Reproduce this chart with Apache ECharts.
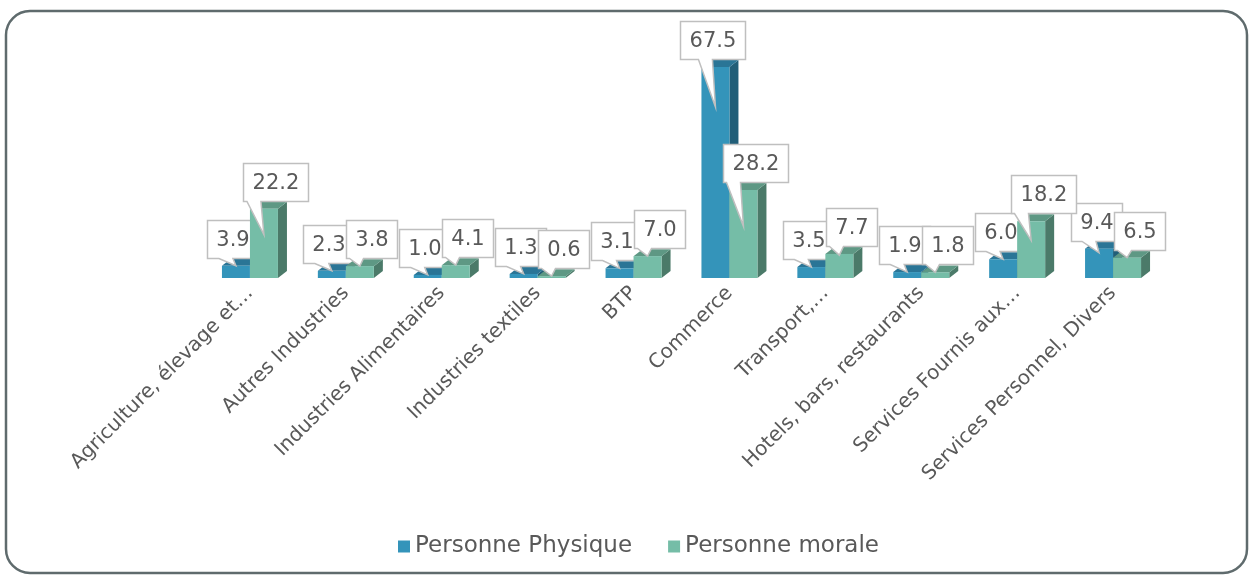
<!DOCTYPE html>
<html>
<head>
<meta charset="utf-8">
<script src="https://cdn.jsdelivr.net/npm/echarts@6/dist/echarts.min.js"></script>
<style>
  html, body { margin: 0; padding: 0; background: #fff; }
  #chart { width: 1252px; height: 576px; }
</style>
</head>
<body>
<div id="chart"></div>
<script>
// données
var categories = [
    'Agriculture, élevage et…', 'Autres Industries', 'Industries Alimentaires',
    'Industries textiles', 'BTP', 'Commerce', 'Transport,…',
    'Hotels, bars, restaurants', 'Services Fournis aux…', 'Services Personnel, Divers'
];
var physique = [3.9, 2.3, 1.0, 1.3, 3.1, 67.5, 3.5, 1.9, 6.0, 9.4];
var morale = [22.2, 3.8, 4.1, 0.6, 7.0, 28.2, 7.7, 1.8, 18.2, 6.5];
var seriesNames = ['Personne Physique', 'Personne morale'];

var FONT = '"DejaVu Sans", sans-serif';
var TEXT_COLOR = '#595959';
var LABEL_SIZE = 21;
var BAR_W = 28, DEPTH_X = 9, DEPTH_Y = 7;

var measureCtx = document.createElement('canvas').getContext('2d');
function textWidth(s, size) {
    measureCtx.font = size + 'px ' + FONT;
    return measureCtx.measureText(s).width;
}

// barre "3D" + bulle de valeur
function barSeries(name, values, side, shades, labelShift) {
    return {
        name: name,
        type: 'custom',
        itemStyle: { color: shades.front },
        data: values.map(function (v, i) { return [i, v]; }),
        encode: { x: 0, y: 1 },
        renderItem: function (params, api) {
            var base = api.coord([api.value(0), 0]);
            var top = api.coord([api.value(0), api.value(1)]);
            var x0 = side < 0 ? base[0] - BAR_W : base[0];
            var x1 = x0 + BAR_W, yb = base[1], yt = top[1];
            var children = [
                { type: 'polygon', shape: { points: [[x1, yb], [x1 + DEPTH_X, yb - DEPTH_Y], [x1 + DEPTH_X, yt - DEPTH_Y], [x1, yt]] }, style: { fill: shades.side } },
                { type: 'polygon', shape: { points: [[x0, yt], [x1, yt], [x1 + DEPTH_X, yt - DEPTH_Y], [x0 + DEPTH_X, yt - DEPTH_Y]] }, style: { fill: shades.top } },
                { type: 'rect', shape: { x: x0, y: yt, width: BAR_W, height: yb - yt }, style: { fill: shades.front } }
            ];
            var txt = api.value(1).toFixed(1);
            var w = Math.round(textWidth(txt, LABEL_SIZE)) + 18, h = 38;
            var cx = (x0 + x1) / 2;
            var bx = Math.round(cx + labelShift - w / 2) + 0.5;
            var by = Math.round(yt - 8 - h) + 0.5;
            var tipX = cx;
            var tipY = yt + Math.max(0, Math.min(40, 0.55 * (yb - yt) - 12));
            var b0 = Math.min(Math.max(tipX - 17, bx + 3), bx + w - 18), b1 = b0 + 14;
            children.push({
                type: 'polygon',
                shape: { points: [[bx, by], [bx + w, by], [bx + w, by + h], [b1, by + h], [tipX, tipY], [b0, by + h], [bx, by + h]] },
                style: { fill: '#fff', stroke: '#BFBFBF', lineWidth: 1.5 }
            });
            children.push({
                type: 'text',
                style: {
                    text: txt, x: bx + w / 2, y: by + h / 2 + 1, align: 'center', verticalAlign: 'middle',
                    fontSize: LABEL_SIZE, fontFamily: FONT, fill: TEXT_COLOR
                }
            });
            return { type: 'group', children: children };
        }
    };
}

var chart = echarts.init(document.getElementById('chart'));
var option = {
    animation: false,
    graphic: [{
        type: 'rect',
        shape: { x: 6, y: 11, width: 1241, height: 562, r: 24 },
        style: { fill: 'none', stroke: '#5F6B6D', lineWidth: 2.5 },
        silent: true
    }],
    legend: {
        data: seriesNames,
        left: 393,
        top: 530,
        icon: 'rect',
        itemWidth: 12,
        itemHeight: 12,
        itemGap: 36,
        textStyle: { fontSize: 23, color: TEXT_COLOR, fontFamily: FONT }
    },
    grid: { left: 202, right: 91, top: 28, bottom: 298, outerBoundsMode: 'none' },
    xAxis: {
        type: 'category',
        data: categories,
        axisLine: { show: false },
        axisTick: { show: false },
        axisLabel: { rotate: 45, interval: 0, margin: 12, fontSize: 20, color: TEXT_COLOR, fontFamily: FONT }
    },
    yAxis: { type: 'value', min: 0, max: 80, show: false, splitLine: { show: false } },
    series: [
        barSeries(seriesNames[0], physique, -1, { front: '#3494BA', top: '#2A7596', side: '#215E78' }, -3),
        barSeries(seriesNames[1], morale, 1, { front: '#75BDA7', top: '#5E9884', side: '#4B7A69' }, 12)
    ]
};
chart.setOption(option);
</script>
</body>
</html>
